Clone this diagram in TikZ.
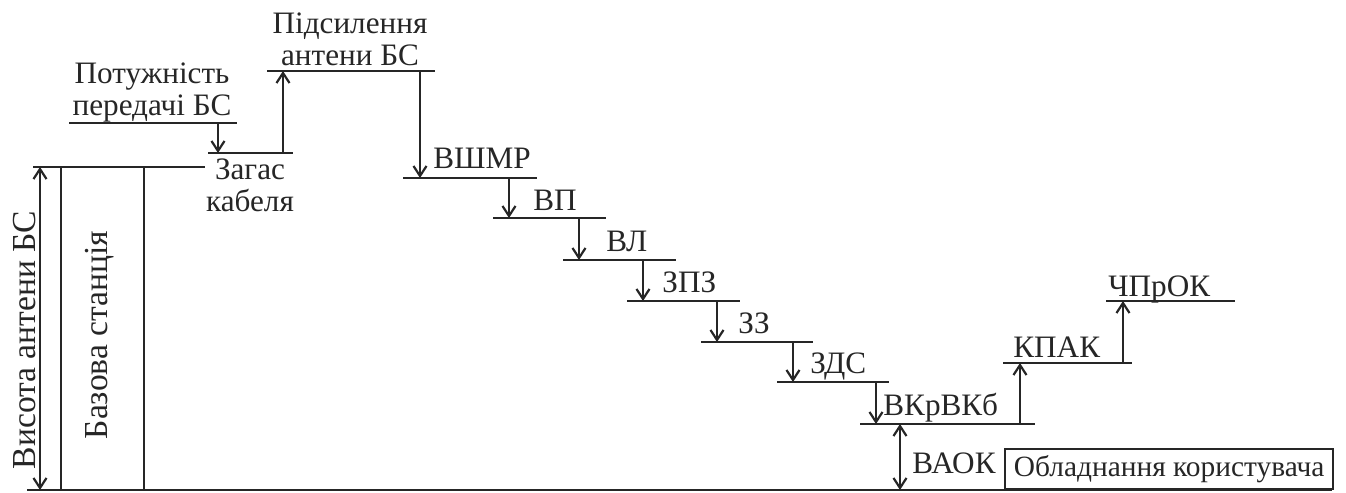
\documentclass[tikz,border=0pt]{standalone}
\usepackage{fontspec}
\setmainfont{Liberation Serif}
\usetikzlibrary{arrows.meta}

\begin{document}
\begin{tikzpicture}[x=0.5pt, y=-0.5pt,
  ln/.style={line width=1.2pt, draw=black!85},
  tip/.style={},
  arr/.style={ln, -{Straight Barb[length=5pt, width=6.5pt, line width=1.1pt]}},
  darr/.style={ln, {Straight Barb[length=5pt, width=6.5pt, line width=1.1pt]}-{Straight Barb[length=5pt, width=6.5pt, line width=1.1pt]}},
  lbl/.style={inner sep=0pt, font=\fontsize{15.6}{16}\selectfont, text=black!85},
  vlbl/.style={lbl, rotate=90, font=\fontsize{16.8}{18}\selectfont},
  stack/.style={lbl, align=center}]
\useasboundingbox (0,0) rectangle (1346,493);

% ground line and base station
\coordinate (g0) at (27,490);
\coordinate (g1) at (1332,490);
\draw[ln] (g0) -- (g1);
\coordinate (bsL) at (33,167);
\coordinate (bsR) at (205,167);
\draw[ln] (bsL) -- (bsR);
\coordinate (hTop) at (40,167);
\coordinate (hBot) at (40,490);
\draw[darr] (hBot) -- (hTop);
\coordinate (b1t) at (61,167);  \coordinate (b1b) at (61,490);
\coordinate (b2t) at (144,167); \coordinate (b2b) at (144,490);
\draw[ln] (b1t) -- (b1b);
\draw[ln] (b2t) -- (b2b);
\node[vlbl] (hlab) at (25,340) {Висота антени БС};
\node[vlbl] (bslab) at (100,335) {Базова станція};

% transmit power
\coordinate (pL) at (69,123); \coordinate (pR) at (237,123);
\draw[ln] (pL) -- (pR);
\node[stack, anchor=base] (plab) at (152,115) {Потужність\\передачі БС};

% cable loss
\coordinate (cL) at (208,153); \coordinate (cR) at (293,153);
\draw[ln] (cL) -- (cR);
\coordinate (a1s) at (218,123); \coordinate (a1e) at (218,153);
\draw[arr] (a1s) -- (a1e);
\node[stack, anchor=north] (clab) at (250,158) {Загас\\кабеля};

% antenna gain
\coordinate (gL) at (267,71); \coordinate (gR) at (435,71);
\draw[ln] (gL) -- (gR);
\coordinate (a2s) at (283,153); \coordinate (a2e) at (283,71);
\draw[arr] (a2s) -- (a2e);
\node[stack, anchor=base] (glab) at (350,65) {Підсилення\\антени БС};

% losses, step by step
\coordinate (s1L) at (403,178); \coordinate (s1R) at (537,178);
\draw[ln] (s1L) -- (s1R);
\coordinate (a3s) at (420,71); \coordinate (a3e) at (420,178);
\draw[arr] (a3s) -- (a3e);
\node[lbl, anchor=base west] (s1lab) at (433,168) {ВШМР};

\coordinate (s2L) at (493,218); \coordinate (s2R) at (606,218);
\draw[ln] (s2L) -- (s2R);
\coordinate (a4s) at (509,178); \coordinate (a4e) at (509,218);
\draw[arr] (a4s) -- (a4e);
\node[lbl, anchor=base west] (s2lab) at (533,210) {ВП};

\coordinate (s3L) at (563,260); \coordinate (s3R) at (676,260);
\draw[ln] (s3L) -- (s3R);
\coordinate (a5s) at (579,218); \coordinate (a5e) at (579,260);
\draw[arr] (a5s) -- (a5e);
\node[lbl, anchor=base west] (s3lab) at (606,251) {ВЛ};

\coordinate (s4L) at (627,301); \coordinate (s4R) at (740,301);
\draw[ln] (s4L) -- (s4R);
\coordinate (a6s) at (643,260); \coordinate (a6e) at (643,301);
\draw[arr] (a6s) -- (a6e);
\node[lbl, anchor=base west] (s4lab) at (662,292) {ЗПЗ};

\coordinate (s5L) at (701,342); \coordinate (s5R) at (813,342);
\draw[ln] (s5L) -- (s5R);
\coordinate (a7s) at (717,301); \coordinate (a7e) at (717,342);
\draw[arr] (a7s) -- (a7e);
\node[lbl, anchor=base west] (s5lab) at (738,333) {ЗЗ};

\coordinate (s6L) at (777,382); \coordinate (s6R) at (889,382);
\draw[ln] (s6L) -- (s6R);
\coordinate (a8s) at (793,342); \coordinate (a8e) at (793,382);
\draw[arr] (a8s) -- (a8e);
\node[lbl, anchor=base west] (s6lab) at (810,373) {ЗДС};

\coordinate (s7L) at (860,424); \coordinate (s7R) at (1035,424);
\draw[ln] (s7L) -- (s7R);
\coordinate (a9s) at (876,382); \coordinate (a9e) at (876,424);
\draw[arr] (a9s) -- (a9e);
\node[lbl, anchor=base west] (s7lab) at (883,415) {ВКрВКб};

% user terminal height
\coordinate (uTop) at (900,424); \coordinate (uBot) at (900,490);
\draw[darr] (uBot) -- (uTop);
\node[lbl, anchor=base west] (ulab) at (912,473) {ВАОК};
\node[lbl, font=\fontsize{14.7}{16}\selectfont, draw=black!85, line width=1.2pt, minimum width=164pt, minimum height=20pt, anchor=south west] (ue) at (1004,490) {Обладнання користувача};

% gains at the user side
\coordinate (s8L) at (1003,363); \coordinate (s8R) at (1132,363);
\draw[ln] (s8L) -- (s8R);
\coordinate (a10s) at (1020,424); \coordinate (a10e) at (1020,363);
\draw[arr] (a10s) -- (a10e);
\node[lbl, anchor=base west] (s8lab) at (1013,357) {КПАК};

\coordinate (s9L) at (1106,301); \coordinate (s9R) at (1235,301);
\draw[ln] (s9L) -- (s9R);
\coordinate (a11s) at (1123,363); \coordinate (a11e) at (1123,301);
\draw[arr] (a11s) -- (a11e);
\node[lbl, anchor=base west] (s9lab) at (1108,296) {ЧПрОК};
\end{tikzpicture}
\end{document}
